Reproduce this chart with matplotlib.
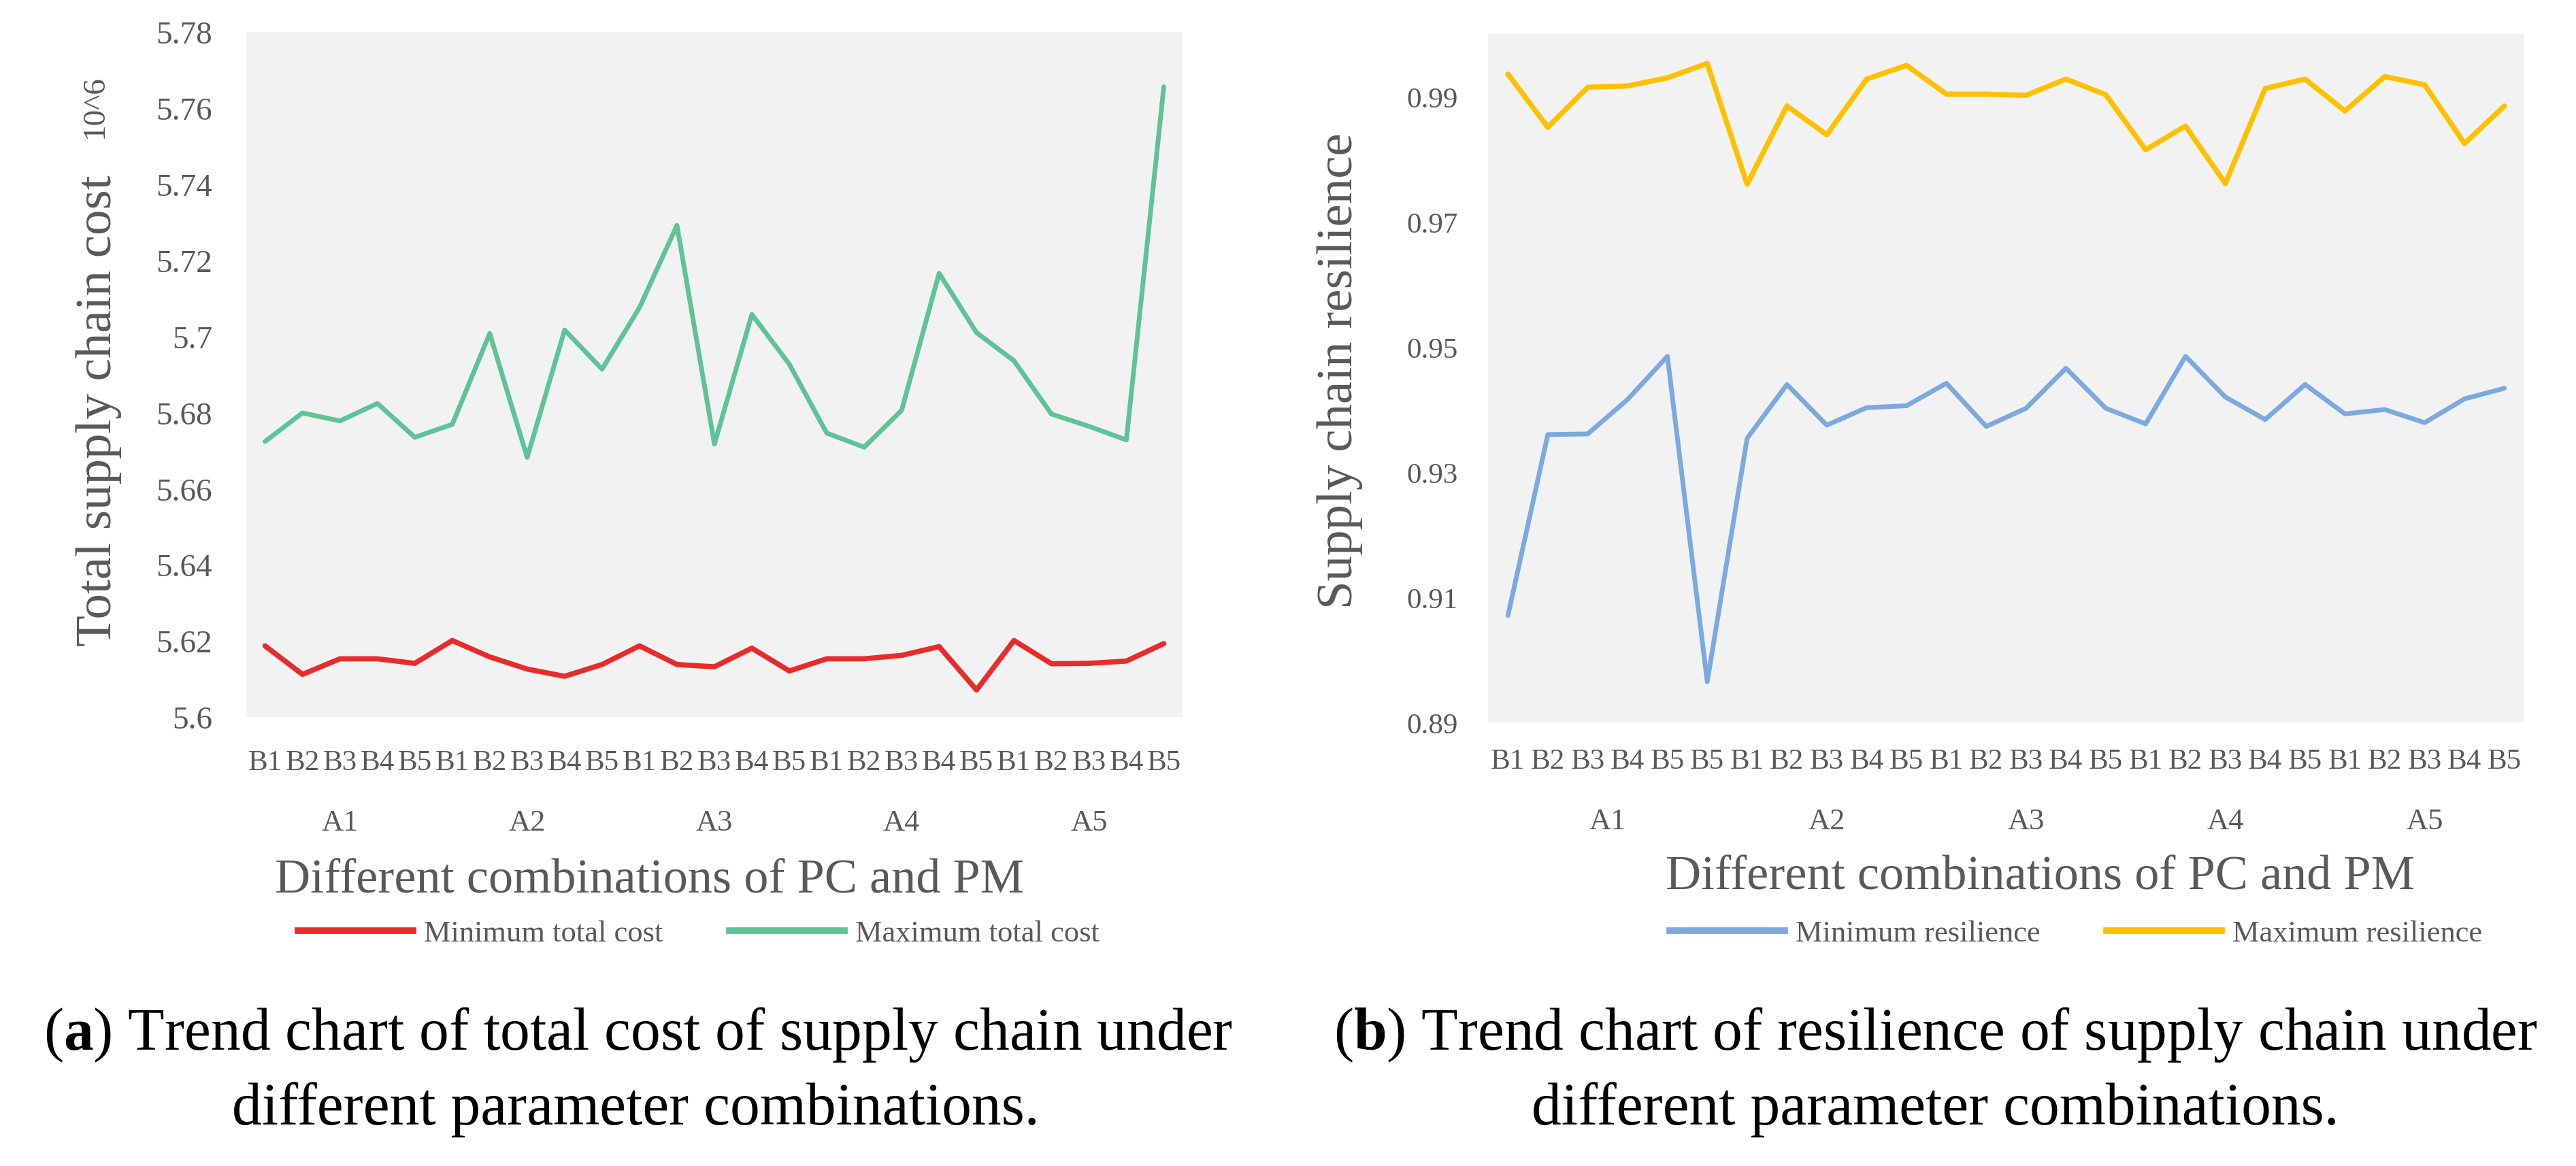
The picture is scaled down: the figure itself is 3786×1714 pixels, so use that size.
import matplotlib
matplotlib.use('Agg')
import matplotlib.pyplot as plt
import matplotlib.transforms as mtrans
from matplotlib.lines import Line2D

plt.rcParams['font.family'] = ['Liberation Serif', 'DejaVu Serif']
plt.rcParams['mathtext.fontset'] = 'custom'
plt.rcParams['mathtext.rm'] = 'Liberation Serif'
plt.rcParams['mathtext.bf'] = 'Liberation Serif:bold'

# ---------------- data ----------------
cats_a = ['B1', 'B2', 'B3', 'B4', 'B5'] * 5
groups_a = ['A1', 'A2', 'A3', 'A4', 'A5']
group_sizes_a = [5, 5, 5, 5, 5]
min_cost = [5.6187, 5.6112, 5.6153, 5.6153, 5.6141,
            5.6201, 5.6158, 5.6126, 5.6107, 5.6138,
            5.6187, 5.6138, 5.6132, 5.6181, 5.6121,
            5.6153, 5.6153, 5.6162, 5.6185, 5.6071,
            5.6201, 5.6140, 5.6141, 5.6147, 5.6193]
max_cost = [5.6724, 5.6799, 5.6778, 5.6824, 5.6735,
            5.6769, 5.7008, 5.6682, 5.7017, 5.6914,
            5.7076, 5.7292, 5.6717, 5.7058, 5.6927,
            5.6746, 5.6709, 5.6806, 5.7166, 5.7010,
            5.6936, 5.6796, 5.6764, 5.6728, 5.7656]
yticks_a = [5.6, 5.62, 5.64, 5.66, 5.68, 5.7, 5.72, 5.74, 5.76, 5.78]

cats_b = ['B1', 'B2', 'B3', 'B4', 'B5', 'B5'] + ['B1', 'B2', 'B3', 'B4', 'B5'] * 4
groups_b = ['A1', 'A2', 'A3', 'A4', 'A5']
group_sizes_b = [6, 5, 5, 5, 5]
min_res = [0.9071, 0.9360, 0.9361, 0.9416, 0.9485, 0.8965,
           0.9354, 0.9440, 0.9375, 0.9403, 0.9406,
           0.9442, 0.9373, 0.9402, 0.9466, 0.9402,
           0.9377, 0.9485, 0.9420, 0.9384, 0.9440,
           0.9393, 0.9400, 0.9379, 0.9417, 0.9434]
max_res = [0.9936, 0.9851, 0.9915, 0.9917, 0.9930, 0.9953,
           0.9760, 0.9885, 0.9839, 0.9928, 0.9950,
           0.9904, 0.9904, 0.9902, 0.9928, 0.9903,
           0.9815, 0.9853, 0.9761, 0.9913, 0.9928,
           0.9877, 0.9932, 0.9919, 0.9825, 0.9885]
yticks_b = [0.89, 0.91, 0.93, 0.95, 0.97, 0.99]

# ---------------- style ----------------
RED = '#E92B2B'
GREEN = '#5EC396'
BLUE = '#7BA9E0'
GOLD = '#FFC000'
BG = '#F2F2F2'
GRAY = '#595959'

W, H = 3786, 1715
fig = plt.figure(figsize=(W / 100, H / 100), dpi=100)


def fx(px):
    return px / W


def fy(py):
    return 1 - py / H


def style_axes(ax):
    ax.set_facecolor(BG)
    for s in ax.spines.values():
        s.set_visible(False)
    ax.tick_params(length=0, colors=GRAY)


def group_labels(ax, groups, sizes, ypix):
    trans = mtrans.blended_transform_factory(ax.transData, fig.transFigure)
    start = 0
    for g, n in zip(groups, sizes):
        c = start + (n - 1) / 2
        ax.text(c, fy(ypix), g, transform=trans, ha='center', va='center',
                fontsize=32, color=GRAY)
        start += n


# ---------------- panel (a) ----------------
axa = fig.add_axes([fx(362), fy(1055), fx(1738 - 362), (1055 - 48) / H])
style_axes(axa)
xa = list(range(len(cats_a)))
axa.plot(xa, min_cost, color=RED, lw=5.5, solid_joinstyle='round', solid_capstyle='round')
axa.plot(xa, max_cost, color=GREEN, lw=5, solid_joinstyle='round', solid_capstyle='round')
axa.set_xlim(-0.5, len(cats_a) - 0.5)
axa.set_ylim(5.6, 5.78)
axa.set_yticks(yticks_a)
axa.set_yticklabels([f'{v:g}' for v in yticks_a], fontsize=34)
axa.set_xticks(xa)
axa.set_xticklabels(cats_a, fontsize=31)
axa.tick_params(axis='y', pad=36)
axa.tick_params(axis='x', pad=34)
group_labels(axa, groups_a, group_sizes_a, 1210)

fig.text(fx(145), fy(604), 'Total supply chain cost', rotation=90, ha='center',
         va='center', fontsize=54, color=GRAY)
fig.text(fx(140), fy(157), '10^6', rotation=90, ha='center', va='center',
         fontsize=34, color=GRAY)
fig.text(fx(955), fy(1295), 'Different combinations of PC and PM', ha='center',
         va='center', fontsize=52, color=GRAY)

ha_ = [Line2D([], [], color=RED, lw=7), Line2D([], [], color=GREEN, lw=7)]
axa.legend(ha_, ['Minimum total cost', 'Maximum total cost'], loc='center',
           bbox_to_anchor=(fx(1027), fy(1373)), bbox_transform=fig.transFigure,
           ncol=2, frameon=False, fontsize=32, handlelength=3.8,
           handletextpad=0.36, columnspacing=2.2, labelcolor=GRAY)

# ---------------- panel (b) ----------------
axb = fig.add_axes([fx(2187), fy(1063), fx(3710 - 2187), (1063 - 51) / H])
style_axes(axb)
xb = list(range(len(cats_b)))
axb.plot(xb, min_res, color=BLUE, lw=5, solid_joinstyle='round', solid_capstyle='round')
axb.plot(xb, max_res, color=GOLD, lw=5.5, solid_joinstyle='round', solid_capstyle='round')
axb.set_xlim(-0.5, len(cats_b) - 0.5)
axb.set_ylim(0.89, 1.0)
axb.set_yticks(yticks_b)
axb.set_yticklabels([f'{v:.2f}' for v in yticks_b], fontsize=31)
axb.set_xticks(xb)
axb.set_xticklabels(cats_b, fontsize=31)
axb.tick_params(axis='y', pad=32)
axb.tick_params(axis='x', pad=27)
group_labels(axb, groups_b, group_sizes_b, 1208)

fig.text(fx(1969), fy(545), 'Supply chain resilience', rotation=90, ha='center',
         va='center', fontsize=54, color=GRAY)
fig.text(fx(2998), fy(1290), 'Different combinations of PC and PM', ha='center',
         va='center', fontsize=52, color=GRAY)

hb_ = [Line2D([], [], color=BLUE, lw=7), Line2D([], [], color=GOLD, lw=7)]
axb.legend(hb_, ['Minimum resilience', 'Maximum resilience'], loc='center',
           bbox_to_anchor=(fx(3051), fy(1373)), bbox_transform=fig.transFigure,
           ncol=2, frameon=False, fontsize=32, handlelength=3.8,
           handletextpad=0.36, columnspacing=2.2, labelcolor=GRAY)

# ---------------- captions ----------------
fig.text(fx(938), fy(1521), r'($\mathbf{a}$) Trend chart of total cost of supply chain under',
         ha='center', va='center', fontsize=63, color='black')
fig.text(fx(934), fy(1631), 'different parameter combinations.',
         ha='center', va='center', fontsize=63, color='black')
fig.text(fx(2845), fy(1521), r'($\mathbf{b}$) Trend chart of resilience of supply chain under',
         ha='center', va='center', fontsize=63, color='black')
fig.text(fx(2844), fy(1631), 'different parameter combinations.',
         ha='center', va='center', fontsize=63, color='black')

fig.savefig('out.png', dpi=100, facecolor='white')
